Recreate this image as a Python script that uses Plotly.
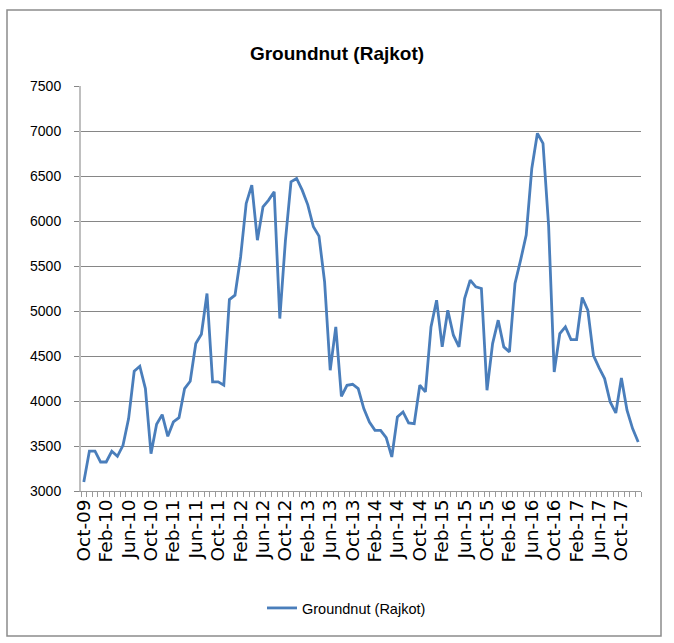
import plotly.graph_objects as go
import pandas as pd

# Monthly prices, Oct-09 .. Jan-18
values = [
    3100, 3444, 3444, 3322, 3322, 3441, 3385, 3508, 3804, 4330,
    4386, 4138, 3415, 3741, 3849, 3608, 3767, 3815, 4138, 4219,
    4638, 4742, 5194, 4212, 4212, 4175, 5127, 5176, 5600, 6195,
    6399, 5787, 6158, 6232, 6325, 4916, 5780, 6436, 6473, 6343,
    6180, 5936, 5832, 5324, 4342, 4824, 4052, 4175, 4186, 4138,
    3915, 3767, 3674, 3674, 3593, 3378, 3823, 3878, 3756, 3748,
    4175, 4101, 4824, 5120, 4601, 5009, 4731, 4601, 5139, 5343,
    5268, 5250, 4119, 4638, 4898, 4601, 4545, 5306, 5565, 5843,
    6584, 6974, 6862, 5950, 4323, 4749, 4823, 4683, 4683, 5150,
    5009, 4508, 4371, 4249, 3989, 3867, 4256, 3897, 3693, 3545,
]
series_name = "Groundnut (Rajkot)"
months = list(pd.date_range("2009-10-01", periods=len(values), freq="MS").strftime("%b-%y"))
x_idx = list(range(len(values)))
label_step = 4
tick_idx = x_idx[::label_step]
tick_text = months[::label_step]
y_ticks = [3000, 3500, 4000, 4500, 5000, 5500, 6000, 6500, 7000, 7500]

W, H = 674, 643
L, R, T, B = 81, 33, 86, 152
PW, PH = W - L - R, H - T - B

fig = go.Figure()
fig.add_trace(go.Scatter(
    x=x_idx, y=values, mode="lines", name=series_name,
    line=dict(color="#4A7EBB", width=2.8),
    hovertext=months,
))

fig.update_layout(
    width=W, height=H,
    margin=dict(l=L, r=R, t=T, b=B),
    paper_bgcolor="white", plot_bgcolor="white",
    title=dict(text="<b>Groundnut (Rajkot)</b>", x=0.5, xanchor="center",
               y=1 - 53 / H, yanchor="middle",
               font=dict(family="Liberation Sans, Arial", size=19, color="black")),
    showlegend=True,
    legend=dict(orientation="h", x=(262 - L) / PW, xanchor="left",
                y=(H - B - 608) / PH, yanchor="middle",
                font=dict(family="Liberation Sans, Arial", size=14.5, color="black"),
                bgcolor="rgba(0,0,0,0)"),
    xaxis=dict(
        range=[-0.5, len(values) - 0.5],
        tickmode="array", tickvals=tick_idx, ticktext=tick_text,
        tickangle=-90, ticks="", showgrid=False, zeroline=False,
        showline=True, linecolor="#9A9A9A", linewidth=1,
        tickfont=dict(family="DejaVu Sans", size=18.5, color="black"),
        minor=dict(tickmode="array", tickvals=[i - 0.5 for i in x_idx] + [len(values) - 0.5],
                   ticks="outside", ticklen=5, tickcolor="#9A9A9A", tickwidth=1, showgrid=False),
    ),
    yaxis=dict(
        range=[3000, 7500], tickmode="array", tickvals=y_ticks,
        ticks="outside", ticklen=5, tickcolor="#868686",
        showgrid=True, gridcolor="#868686", gridwidth=1,
        showline=True, linecolor="#BFBFBF", linewidth=2, zeroline=False,
        ticklabelstandoff=10,
        tickfont=dict(family="Liberation Sans, Arial", size=14, color="black"),
    ),
)

# outer chart frame
fig.add_shape(type="rect", xref="paper", yref="paper",
              x0=(7 - L) / PW, x1=(661 - L) / PW,
              y0=(H - B - 636) / PH, y1=(H - B - 10) / PH,
              line=dict(color="#8C8C8C", width=1.5), layer="below")

fig.write_html("out.html", config={"displayModeBar": False},
               post_script="document.body.style.margin='0';")
